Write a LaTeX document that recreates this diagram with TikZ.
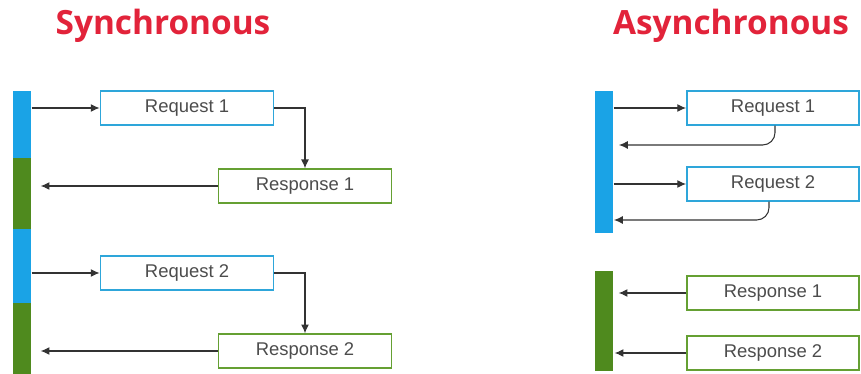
\documentclass[tikz,border=0pt]{standalone}
\usepackage{fontspec}
\setmainfont{Liberation Sans}
\newfontfamily\titlefont{Open Sans}
\usetikzlibrary{arrows.meta}
\definecolor{barblue}{HTML}{1AA3E6}
\definecolor{bargreen}{HTML}{4F8A1E}
\definecolor{boxblue}{HTML}{2EA6DA}
\definecolor{boxgreen}{HTML}{65A033}
\definecolor{titlered}{HTML}{E2233A}
\begin{document}
\begin{tikzpicture}[x=0.02cm,y=-0.02cm,
title/.style={font=\titlefont\bfseries\fontsize{19}{21}\selectfont,text=titlered},
box/.style={line width=1.1pt,minimum width=3.46cm,minimum height=0.67cm,inner sep=0pt,font=\fontsize{10.5}{12}\selectfont,text=black!70},
reqbox/.style={box,draw=boxblue},
resbox/.style={box,draw=boxgreen},
bar/.style={minimum width=0.36cm,inner sep=0pt,anchor=north west},
arr/.style={draw=black!80,line width=0.6pt,-{Latex[length=5pt,width=4.5pt]}}]
\useasboundingbox (0,0) rectangle (861,374);
% titles
\node[title] (synctitle) at (163,26) {Synchronous};
\node[title] (asynctitle) at (731,26) {Asynchronous};
% synchronous
\node[bar,fill=barblue,minimum height=1.34cm] (sbar1) at (13,91) {};
\node[bar,fill=bargreen,minimum height=1.42cm] (sbar2) at (13,158) {};
\node[bar,fill=barblue,minimum height=1.48cm] (sbar3) at (13,229) {};
\node[bar,fill=bargreen,minimum height=1.42cm] (sbar4) at (13,303) {};
\node[reqbox] (sreq1) at (187,108) {Request 1};
\node[resbox] (sres1) at (305,186) {Response 1};
\node[reqbox] (sreq2) at (187,273) {Request 2};
\node[resbox] (sres2) at (305,351) {Response 2};
\draw[arr] (sbar1.east |- sreq1.west) -- (sreq1.west);
\draw[arr] (sreq1.east) -| (sres1.north);
\draw[arr] (sres1.west) -- ([xshift=9*0.02cm]sbar2.east |- sres1.west);
\draw[arr] (sbar3.east |- sreq2.west) -- (sreq2.west);
\draw[arr] (sreq2.east) -| (sres2.north);
\draw[arr] (sres2.west) -- ([xshift=9*0.02cm]sbar4.east |- sres2.west);
% asynchronous
\node[bar,fill=barblue,minimum height=2.84cm] (abar1) at (595,91) {};
\node[bar,fill=bargreen,minimum height=2cm] (abar2) at (595,271) {};
\node[reqbox,minimum width=3.44cm] (areq1) at (773,108) {Request 1};
\node[reqbox,minimum width=3.44cm] (areq2) at (773,184) {Request 2};
\node[resbox,minimum width=3.44cm] (ares1) at (773,293) {Response 1};
\node[resbox,minimum width=3.44cm] (ares2) at (773,353) {Response 2};
\coordinate (aret1) at (619,145);
\coordinate (aret2) at (614,220);
\draw[arr] (abar1.east |- areq1.west) -- (areq1.west);
\draw[arr,rounded corners=7pt] ([xshift=2*0.02cm]areq1.south) |- (aret1);
\draw[arr] (abar1.east |- areq2.west) -- (areq2.west);
\draw[arr,rounded corners=7pt] ([xshift=-4*0.02cm]areq2.south) |- (aret2);
\draw[arr] (ares1.west) -- ([xshift=5*0.02cm]abar2.east |- ares1.west);
\draw[arr] (ares2.west) -- ([xshift=1*0.02cm]abar2.east |- ares2.west);
\end{tikzpicture}
\end{document}
